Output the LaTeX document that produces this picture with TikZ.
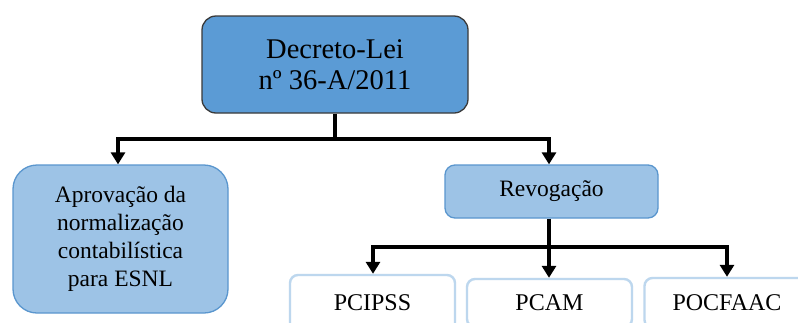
\documentclass[tikz,border=0pt]{standalone}
\usepackage{fontspec}
\setmainfont[Ligatures=TeX]{Liberation Serif}
\usetikzlibrary{arrows.meta}
\definecolor{darkblue}{HTML}{5B9BD5}
\definecolor{lightblue}{HTML}{9DC3E6}
\definecolor{paleblue}{HTML}{BDD7EE}
\definecolor{edgegray}{HTML}{3A3A3A}
\definecolor{edgeblue}{HTML}{5A96CE}
\begin{document}
\begin{tikzpicture}[x=1pt,y=-1pt,
  topbox/.style={draw=edgegray,line width=1.3pt,fill=darkblue,rounded corners=14pt,
    minimum width=266pt,minimum height=97pt,align=center,font=\rmfamily\fontsize{28.5}{31}\selectfont,inner sep=0pt},
  midbox/.style={draw=edgeblue,line width=1.3pt,fill=lightblue,rounded corners=10pt,
    align=center,font=\rmfamily\fontsize{23.5}{28}\selectfont,inner sep=0pt},
  leafbox/.style={draw=paleblue,line width=2.4pt,fill=white,rounded corners=8pt,
    minimum width=165pt,font=\rmfamily\fontsize{24}{28}\selectfont,inner sep=0pt},
  conn/.style={line width=3.2pt,black},
  arr/.style={conn,-{Triangle[length=12pt,width=14pt]}}]
\useasboundingbox (0,0) rectangle (798,322);
\clip (0,0) rectangle (798,322);
\fill[white] (0,0) rectangle (798,322);
\node[topbox] (dl) at (335,64.5) {Decreto-Lei\\nº 36-A/2011};
\node[midbox,minimum width=215pt,minimum height=148pt,rounded corners=24pt] (apr) at (120.5,239)
  {Aprovação da\\normalização\\contabilística\\para ESNL};
\node[midbox,minimum width=213pt,minimum height=53pt] (rev) at (551.5,191.5) {Revogação};
\node[leafbox,minimum height=56pt] (p1) at (372.5,303) {PCIPSS};
\node[leafbox,minimum height=48pt] (p2) at (549.5,303) {PCAM};
\node[leafbox,minimum height=50pt] (p3) at (727,303) {POCFAAC};
\coordinate (j1) at (335,139);
\coordinate (j2) at (549,247);
\draw[conn] (dl.south) -- (j1);
\draw[arr] (j1) -| (apr.north -| 118,0);
\draw[arr] (j1) -| (rev.north -| 549,0);
\draw[conn] (rev.south -| j2) -- (j2);
\draw[arr] (j2) -| (p1.north -| 373,0);
\draw[arr] (j2) -- (p2.north -| j2);
\draw[arr] (j2) -| (p3.north);
\end{tikzpicture}
\end{document}
